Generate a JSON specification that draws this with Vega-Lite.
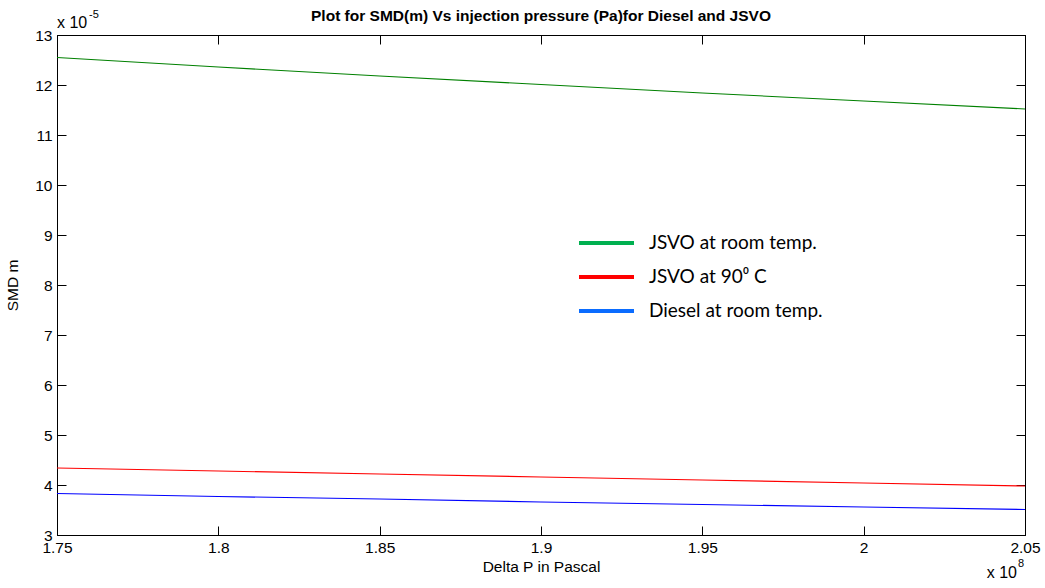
{
  "$schema": "https://vega.github.io/schema/vega-lite/v6.json",
  "width": 968,
  "height": 500,
  "autosize": {"type": "none"},
  "padding": {"left": 57, "top": 35, "right": 20, "bottom": 53},
  "background": "white",
  "config": {
    "view": {"stroke": "black", "strokeWidth": 1},
    "font": "Liberation Sans"
  },
  "title": {
    "text": "Plot for SMD(m) Vs injection pressure (Pa)for Diesel and JSVO",
    "font": "Liberation Sans",
    "fontSize": 15.5,
    "fontWeight": "bold",
    "anchor": "middle",
    "frame": "group",
    "offset": -15,
    "color": "black"
  },
  "datasets": {
    "lines": [
      {"p": 1.75, "smd": 12.55, "series": "JSVO at room temp."},
      {"p": 1.80, "smd": 12.36, "series": "JSVO at room temp."},
      {"p": 1.85, "smd": 12.18, "series": "JSVO at room temp."},
      {"p": 1.90, "smd": 12.01, "series": "JSVO at room temp."},
      {"p": 1.95, "smd": 11.84, "series": "JSVO at room temp."},
      {"p": 2.00, "smd": 11.68, "series": "JSVO at room temp."},
      {"p": 2.05, "smd": 11.52, "series": "JSVO at room temp."},
      {"p": 1.75, "smd": 4.34, "series": "\u00a0JSVO at 90⁰ C"},
      {"p": 1.80, "smd": 4.28, "series": "\u00a0JSVO at 90⁰ C"},
      {"p": 1.85, "smd": 4.22, "series": "\u00a0JSVO at 90⁰ C"},
      {"p": 1.90, "smd": 4.16, "series": "\u00a0JSVO at 90⁰ C"},
      {"p": 1.95, "smd": 4.10, "series": "\u00a0JSVO at 90⁰ C"},
      {"p": 2.00, "smd": 4.04, "series": "\u00a0JSVO at 90⁰ C"},
      {"p": 2.05, "smd": 3.98, "series": "\u00a0JSVO at 90⁰ C"},
      {"p": 1.75, "smd": 3.83, "series": "Diesel at room temp."},
      {"p": 1.80, "smd": 3.77, "series": "Diesel at room temp."},
      {"p": 1.85, "smd": 3.72, "series": "Diesel at room temp."},
      {"p": 1.90, "smd": 3.66, "series": "Diesel at room temp."},
      {"p": 1.95, "smd": 3.61, "series": "Diesel at room temp."},
      {"p": 2.00, "smd": 3.56, "series": "Diesel at room temp."},
      {"p": 2.05, "smd": 3.51, "series": "Diesel at room temp."}
    ],
    "notes": [
      {"p": 1.75, "smd": 13, "base": "x 10", "exp": "-5", "where": "y"},
      {"p": 2.05, "smd": 3, "base": "x 10", "exp": "8", "where": "x"}
    ]
  },
  "layer": [
    {
      "data": {"name": "lines"},
      "mark": {"type": "line", "strokeWidth": 0, "clip": true},
      "encoding": {
        "x": {
          "field": "p", "type": "quantitative",
          "scale": {"domain": [1.75, 2.05], "nice": false, "zero": false},
          "axis": {
            "title": "Delta P in Pascal", "titleFontSize": 15.5, "titleFontWeight": "normal",
            "titleColor": "black", "titlePadding": 4,
            "values": [1.75, 1.8, 1.85, 1.9, 1.95, 2, 2.05],
            "labelExpr": "datum.value == 2 ? '2' : format(datum.value, '.2~f')",
            "labelFontSize": 15.5, "labelColor": "black", "labelPadding": 14,
            "tickSize": -9, "tickColor": "black", "domainColor": "black",
            "grid": false, "labelFlush": false, "labelOverlap": false
          }
        },
        "y": {
          "field": "smd", "type": "quantitative",
          "scale": {"domain": [3, 13], "nice": false, "zero": false},
          "axis": {
            "title": "SMD m", "titleFontSize": 15.5, "titleFontWeight": "normal",
            "titleColor": "black", "titlePadding": 14,
            "values": [3, 4, 5, 6, 7, 8, 9, 10, 11, 12, 13],
            "labelFontSize": 15.5, "labelColor": "black", "labelPadding": 14,
            "tickSize": -9, "tickColor": "black", "domainColor": "black",
            "grid": false, "labelOverlap": false
          }
        },
        "color": {
          "field": "series", "type": "nominal",
          "scale": {
            "domain": ["JSVO at room temp.", "\u00a0JSVO at 90⁰ C", "Diesel at room temp."],
            "range": ["#00b050", "#ff0000", "#0a6cff"]
          },
          "legend": {
            "orient": "none", "legendX": 537.5, "legendY": 196,
            "title": null, "symbolType": "M-2.75,0L2.75,0", "symbolSize": 400,
            "symbolStrokeWidth": 4, "symbolOpacity": 1,
            "labelFont": "Lato", "labelFontSize": 19, "labelLimit": 400,
            "labelColor": "black", "labelOffset": 30.5, "rowPadding": 12,
            "padding": 0
          }
        }
      }
    },
    {
      "data": {"name": "lines"},
      "mark": {"type": "line", "strokeWidth": 1.1, "clip": true},
      "encoding": {
        "x": {"field": "p", "type": "quantitative", "axis": null},
        "y": {"field": "smd", "type": "quantitative", "axis": null},
        "stroke": {
          "field": "series", "type": "nominal",
          "scale": {
            "domain": ["JSVO at room temp.", "\u00a0JSVO at 90⁰ C", "Diesel at room temp."],
            "range": ["#008000", "#ff0000", "#0000ff"]
          },
          "legend": null
        }
      }
    },
    {
      "data": {"name": "notes"},
      "transform": [{"filter": "datum.where == 'y'"}],
      "mark": {"type": "text", "align": "left", "baseline": "alphabetic", "dy": -7, "fontSize": 16, "color": "black"},
      "encoding": {
        "x": {"field": "p", "type": "quantitative", "axis": null},
        "y": {"field": "smd", "type": "quantitative", "axis": null},
        "text": {"field": "base"}
      }
    },
    {
      "data": {"name": "notes"},
      "transform": [{"filter": "datum.where == 'y'"}],
      "mark": {"type": "text", "align": "left", "baseline": "alphabetic", "dx": 32, "dy": -17, "fontSize": 11, "color": "black"},
      "encoding": {
        "x": {"field": "p", "type": "quantitative", "axis": null},
        "y": {"field": "smd", "type": "quantitative", "axis": null},
        "text": {"field": "exp"}
      }
    },
    {
      "data": {"name": "notes"},
      "transform": [{"filter": "datum.where == 'x'"}],
      "mark": {"type": "text", "align": "right", "baseline": "alphabetic", "dx": -8, "dy": 43, "fontSize": 16, "color": "black"},
      "encoding": {
        "x": {"field": "p", "type": "quantitative", "axis": null},
        "y": {"field": "smd", "type": "quantitative", "axis": null},
        "text": {"field": "base"}
      }
    },
    {
      "data": {"name": "notes"},
      "transform": [{"filter": "datum.where == 'x'"}],
      "mark": {"type": "text", "align": "right", "baseline": "alphabetic", "dx": -1, "dy": 32, "fontSize": 11, "color": "black"},
      "encoding": {
        "x": {"field": "p", "type": "quantitative", "axis": null},
        "y": {"field": "smd", "type": "quantitative", "axis": null},
        "text": {"field": "exp"}
      }
    },
    {
      "data": {"name": "notes"},
      "mark": {"type": "point", "opacity": 0},
      "encoding": {
        "x": {
          "field": "p", "type": "quantitative",
          "axis": {"orient": "top", "labels": false, "title": null, "values": [1.75, 1.8, 1.85, 1.9, 1.95, 2, 2.05], "tickSize": -9, "tickColor": "black", "domainColor": "black", "grid": false}
        },
        "y": {
          "field": "smd", "type": "quantitative",
          "axis": {"orient": "right", "labels": false, "title": null, "values": [3, 4, 5, 6, 7, 8, 9, 10, 11, 12, 13], "tickSize": -9, "tickColor": "black", "domainColor": "black", "grid": false}
        }
      }
    }
  ],
  "resolve": {"axis": {"x": "independent", "y": "independent"}}
}
